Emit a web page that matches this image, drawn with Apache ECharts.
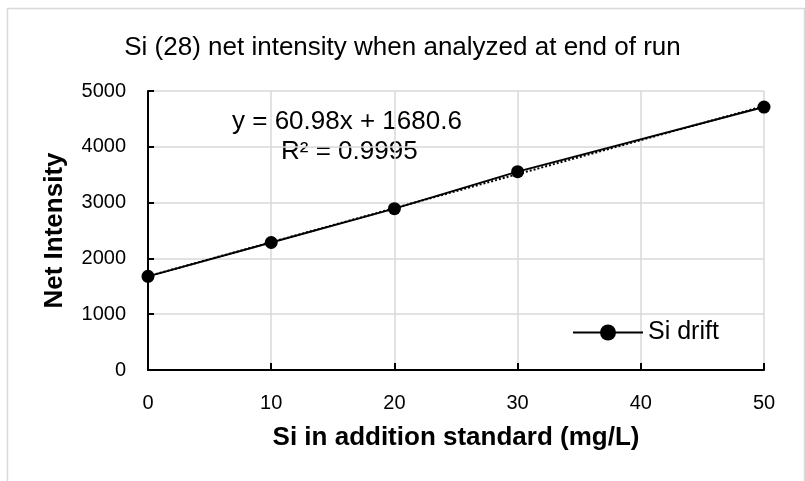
<!DOCTYPE html>
<html><head><meta charset="utf-8">
<script src="https://cdn.jsdelivr.net/npm/echarts@6/dist/echarts.min.js"></script>
<style>html,body{margin:0;padding:0;background:#fff}#c{width:805px;height:481px}</style>
</head><body><div id="c"></div>
<script>
const xValues = [0, 10, 20, 30, 50];
const yValues = [1678, 2285, 2892, 3555, 4712];
const xTicks = [0, 10, 20, 30, 40, 50];
const yTicks = [0, 1000, 2000, 3000, 4000, 5000];
const trendSlope = 60.98;
const trendIntercept = 1680.6;
const titleText = 'Si (28) net intensity when analyzed at end of run';
const seriesName = 'Si drift';
const xTitle = 'Si in addition standard (mg/L)';
const yTitle = 'Net Intensity';
const eqLine1 = 'y = 60.98x + 1680.6';
const eqLine2 = 'R\u00b2 = 0.9995';

const sans = "'Liberation Sans', Arial, sans-serif";
const xMin = xTicks[0], xMax = xTicks[xTicks.length - 1];
const trendData = [[xMin, trendIntercept + trendSlope * xMin], [xMax, trendIntercept + trendSlope * xMax]];

const chart = echarts.init(document.getElementById('c'), null, {renderer: 'canvas'});
chart.setOption({
  animation: false,
  backgroundColor: '#fff',
  title: {
    text: titleText, left: 'center', top: 30,
    textStyle: {fontFamily: sans, fontSize: 26, fontWeight: 'normal', color: '#000'}
  },
  grid: {left: 148, right: 41, top: 91, bottom: 111},
  legend: {
    data: [{name: seriesName}],
    left: 567, top: 315, itemWidth: 70, itemHeight: 20, itemGap: 4,
    textStyle: {fontFamily: sans, fontSize: 25, color: '#000'}
  },
  xAxis: {
    type: 'value', min: xMin, max: xMax, interval: 10,
    name: xTitle, nameLocation: 'middle', nameGap: 55,
    nameTextStyle: {fontFamily: sans, fontSize: 26, fontWeight: 'bold', color: '#000'},
    axisLine: {lineStyle: {color: '#000', width: 2}},
    axisTick: {show: true, inside: true, length: 7, lineStyle: {color: '#000', width: 2}},
    axisLabel: {fontFamily: sans, fontSize: 20, color: '#000', margin: 23},
    splitLine: {show: true, lineStyle: {color: '#d9d9d9', width: 1.5}}
  },
  yAxis: {
    type: 'value', min: yTicks[0], max: yTicks[yTicks.length - 1], interval: 1000,
    name: yTitle, nameLocation: 'middle', nameGap: 80, nameRotate: 90,
    nameTextStyle: {fontFamily: sans, fontSize: 26, fontWeight: 'bold', color: '#000'},
    axisLine: {show: true, lineStyle: {color: '#000', width: 2}},
    axisTick: {show: true, inside: true, length: 6, lineStyle: {color: '#000', width: 2}},
    axisLabel: {fontFamily: sans, fontSize: 20, color: '#000', margin: 22, formatter: v => String(v)},
    splitLine: {show: true, lineStyle: {color: '#d9d9d9', width: 1.5}}
  },
  graphic: [
    {type: 'rect', left: 5, top: 6, shape: {width: 797, height: 490}, style: {fill: 'none', stroke: '#d9d9d9', lineWidth: 1.5}, silent: true},
    {type: 'text', left: 232, top: 109, style: {text: eqLine1, font: "26px 'Liberation Sans', Arial, sans-serif", fill: '#000'}},
    {type: 'text', left: 281, top: 139, style: {text: eqLine2, font: "26px 'Liberation Sans', Arial, sans-serif", fill: '#000'}}
  ],
  series: [
    {
      name: 'Linear trend', type: 'line', data: trendData, showSymbol: false, symbol: 'none',
      lineStyle: {color: '#000', width: 2, type: 'dotted'}, silent: true, z: 1
    },
    {
      name: seriesName, type: 'line', data: xValues.map((x, i) => [x, yValues[i]]),
      symbol: 'circle', symbolSize: 13,
      itemStyle: {color: '#000'}, lineStyle: {color: '#000', width: 2}, z: 2
    }
  ]
});
</script></body></html>
